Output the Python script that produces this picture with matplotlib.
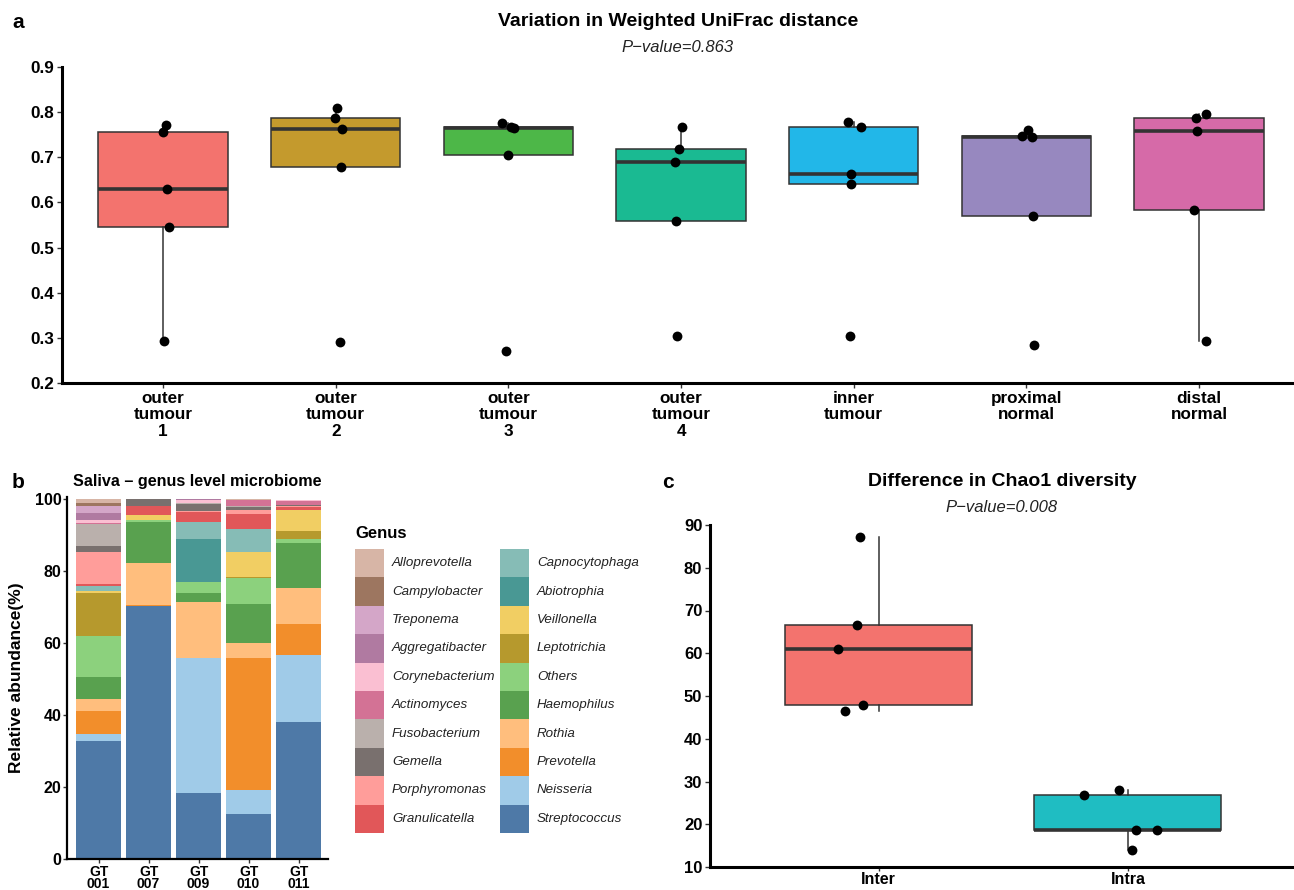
import matplotlib
matplotlib.use("Agg")
import matplotlib.pyplot as plt
import numpy as np
from matplotlib.patches import Rectangle

plt.rcParams["font.family"] = ["Liberation Sans", "DejaVu Sans"]

# ---- panel a: weighted UniFrac distance per site ----
sites = ["outer\ntumour\n1", "outer\ntumour\n2", "outer\ntumour\n3", "outer\ntumour\n4",
         "inner\ntumour", "proximal\nnormal", "distal\nnormal"]
site_colors = ["#F3736E", "#C49A2D", "#4DB748", "#1ABA92", "#22B7E8", "#9788BF", "#D66AA8"]
unifrac = [
    [0.771, 0.755, 0.630, 0.545, 0.294],
    [0.810, 0.788, 0.762, 0.678, 0.291],
    [0.776, 0.768, 0.765, 0.704, 0.270],
    [0.767, 0.718, 0.689, 0.558, 0.305],
    [0.778, 0.767, 0.662, 0.641, 0.304],
    [0.761, 0.747, 0.746, 0.569, 0.285],
    [0.795, 0.787, 0.758, 0.583, 0.294],
]
# horizontal jitter of the dots
unifrac_jitter = [
    [0.020, 0.000, 0.024, 0.032, 0.005],
    [0.005, -0.005, 0.036, 0.032, 0.027],
    [-0.034, 0.015, 0.032, -0.002, -0.012],
    [0.007, -0.014, -0.036, -0.029, -0.022],
    [-0.034, 0.043, -0.014, -0.014, -0.019],
    [0.007, -0.027, 0.031, 0.036, 0.043],
    [0.039, -0.019, -0.010, -0.027, 0.039],
]

# ---- panel b: saliva genus level stacked bars ----
samples = ["GT\n001", "GT\n007", "GT\n009", "GT\n010", "GT\n011"]
# stacking order, bottom to top
genera = ["Streptococcus", "Neisseria", "Prevotella", "Rothia", "Haemophilus", "Others",
          "Leptotrichia", "Veillonella", "Abiotrophia", "Capnocytophaga", "Granulicatella",
          "Porphyromonas", "Gemella", "Fusobacterium", "Actinomyces", "Corynebacterium",
          "Aggregatibacter", "Treponema", "Campylobacter", "Alloprevotella"]
genus_colors = ["#4E79A7", "#A0CBE8", "#F28E2B", "#FFBE7D", "#59A14F", "#8CD17D",
                "#B6992D", "#F1CE63", "#499894", "#86BCB6", "#E15759",
                "#FF9D9A", "#79706E", "#BAB0AC", "#D37295", "#FABFD2",
                "#B07AA1", "#D4A6C8", "#9D7660", "#D7B5A6"]
gt001 = [32.8, 1.9, 6.5, 3.2, 6.2, 11.3, 11.9, 0.6, 0.0, 1.4, 0.6, 8.9, 1.6, 6.2, 0.3, 0.8, 1.9, 1.9, 0.8, 1.1]
gt007 = [70.3, 0.0, 0.3, 11.6, 11.4, 0.6, 0.0, 1.4, 0.0, 0.0, 2.5, 0.0, 1.9, 0.0, 0.0, 0.0, 0.0, 0.0, 0.0, 0.0]
gt009 = [18.3, 37.6, 0.0, 15.5, 2.5, 3.0, 0.0, 0.0, 12.0, 4.7, 2.9, 0.3, 1.8, 0.3, 0.1, 0.8, 0.3, 0.0, 0.0, 0.0]
gt010 = [12.5, 6.7, 36.6, 4.2, 10.8, 7.3, 0.3, 6.9, 0.0, 6.4, 4.1, 1.2, 0.8, 0.2, 1.8, 0.0, 0.0, 0.0, 0.0, 0.3]
gt011 = [38.1, 18.6, 8.6, 10.0, 12.5, 1.1, 2.3, 5.8, 0.0, 0.0, 0.8, 0.2, 0.3, 0.0, 1.2, 0.3, 0.0, 0.0, 0.0, 0.0]

# ---- panel c: Chao1 diversity ----
chao_groups = ["Inter", "Intra"]
chao_colors = ["#F3736E", "#1FBDC2"]
chao1 = [
    [87.3, 66.5, 60.9, 48.0, 46.5],
    [27.9, 26.8, 18.6, 18.7, 13.9],
]
chao_jitter = [
    [-0.074, -0.086, -0.162, -0.062, -0.133],
    [-0.037, -0.175, 0.034, 0.118, 0.018],
]

W, H = 1294, 890
fig = plt.figure(figsize=(W / 100, H / 100), dpi=100)


def px_axes(left, top, right, bottom):
    return fig.add_axes([left / W, 1 - bottom / H, (right - left) / W, (bottom - top) / H])


def style_axes(ax, size, pad=2, length=3.5):
    for side in ["top", "right"]:
        ax.spines[side].set_visible(False)
    for side in ["left", "bottom"]:
        ax.spines[side].set_linewidth(2.2)
        ax.spines[side].set_color("black")
    ax.tick_params(length=length, width=1.0, color="#333333", labelsize=size, pad=pad)
    for lbl in ax.get_xticklabels() + ax.get_yticklabels():
        lbl.set_fontweight("bold")
        lbl.set_color("black")


def boxes(ax, data, jitter, colors, size):
    pos = np.arange(len(data))
    bp = ax.boxplot(data, positions=pos, widths=0.75, patch_artist=True,
                    showfliers=False, showcaps=False, whis=1.5,
                    medianprops=dict(color="#333333", linewidth=2.6),
                    boxprops=dict(edgecolor="#333333", linewidth=1.1),
                    whiskerprops=dict(color="#333333", linewidth=1.1))
    for patch, c in zip(bp["boxes"], colors):
        patch.set_facecolor(c)
    for i, (vals, jit) in enumerate(zip(data, jitter)):
        ax.scatter(i + np.array(jit), vals, s=size, color="black", zorder=3, linewidths=0)


# panel a
ax_a = px_axes(62, 67, 1294, 383)
boxes(ax_a, unifrac, unifrac_jitter, site_colors, 50)
ax_a.set_xlim(-0.585, 6.55)
ax_a.set_ylim(0.2, 0.9)
ax_a.set_yticks(np.arange(0.2, 0.91, 0.1))
ax_a.set_yticklabels([f"{v:.1f}" for v in np.arange(0.2, 0.91, 0.1)])
ax_a.set_xticks(range(len(sites)))
ax_a.set_xticklabels(sites, linespacing=1.12)
style_axes(ax_a, 12.3)

fig.text(18 / W, 1 - 22 / H, "a", fontsize=15, fontweight="bold", ha="center", va="center")
fig.text(678 / W, 1 - 22 / H, "Variation in Weighted UniFrac distance",
         fontsize=14, fontweight="bold", ha="center", va="center")
fig.text(678 / W, 1 - 48 / H, "P\u2212value=0.863", fontsize=12, style="italic",
         ha="center", va="center", color="#222222")

# panel b
ax_b = px_axes(67, 497, 328, 859)
x = np.arange(len(samples))
stack = np.array([gt001, gt007, gt009, gt010, gt011]).T
bottom = np.zeros(len(samples))
for g, c, vals in zip(genera, genus_colors, stack):
    ax_b.bar(x, vals, bottom=bottom, width=0.9, color=c, linewidth=0, label=g)
    bottom += vals
ax_b.set_xlim(-0.63, 4.59)
ax_b.set_ylim(0, 100.55)
ax_b.set_yticks([0, 20, 40, 60, 80, 100])
ax_b.set_xticks(x)
ax_b.set_xticklabels(samples, linespacing=0.9)
style_axes(ax_b, 11.5, pad=1, length=3)
ax_b.tick_params(axis="x", labelsize=10)
ax_b.spines["left"].set_linewidth(1.6)
ax_b.spines["bottom"].set_linewidth(1.6)
ax_b.set_ylabel("Relative abundance(%)", fontsize=12.5, fontweight="bold", labelpad=8)

fig.text(18 / W, 1 - 482 / H, "b", fontsize=15, fontweight="bold", ha="center", va="center")
fig.text(73 / W, 1 - 481 / H, "Saliva \u2013 genus level microbiome",
         fontsize=11.6, fontweight="bold", ha="left", va="center")

# legend drawn in pixel space
leg = fig.add_axes([0, 0, 1, 1])
leg.set_xlim(0, W)
leg.set_ylim(H, 0)
leg.axis("off")
leg.text(355, 534, "Genus", fontsize=12, fontweight="bold", ha="left", va="center")
order = genera[::-1]
colors_rev = genus_colors[::-1]
row_h = 28.4
for k, (g, c) in enumerate(zip(order, colors_rev)):
    col, row = divmod(k, 10)
    x0 = 355 + col * 145
    y0 = 549 + row * row_h
    leg.add_patch(Rectangle((x0, y0), 29, row_h, facecolor=c, edgecolor="none"))
    leg.text(x0 + 37, y0 + row_h / 2, g, fontsize=9.6, style="italic",
             ha="left", va="center", color="#222222")

# panel c
ax_c = px_axes(710, 525, 1294, 867)
boxes(ax_c, chao1, chao_jitter, chao_colors, 50)
ax_c.set_xlim(-0.676, 1.666)
ax_c.set_ylim(10, 90)
ax_c.set_yticks(range(10, 91, 10))
ax_c.set_xticks(range(len(chao_groups)))
ax_c.set_xticklabels(chao_groups)
style_axes(ax_c, 12)
ax_c.tick_params(axis="x", labelsize=11.5, pad=0.5, length=3)

fig.text(668 / W, 1 - 483 / H, "c", fontsize=15, fontweight="bold", ha="center", va="center")
fig.text(1002 / W, 1 - 482 / H, "Difference in Chao1 diversity",
         fontsize=14, fontweight="bold", ha="center", va="center")
fig.text(1002 / W, 1 - 508 / H, "P\u2212value=0.008", fontsize=12, style="italic",
         ha="center", va="center", color="#222222")

fig.savefig("out.png", dpi=100)
